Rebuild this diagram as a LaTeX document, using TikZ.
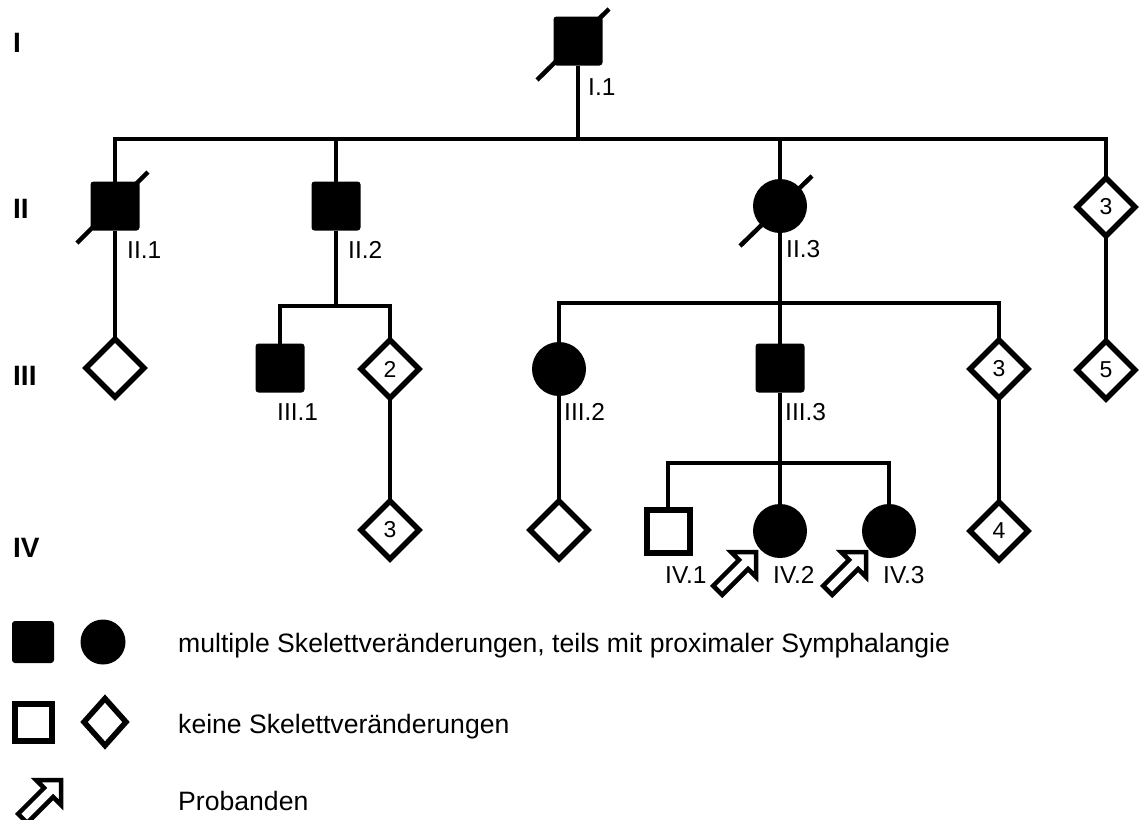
\documentclass[tikz,border=0pt]{standalone}
\usepackage{fontspec}
\setmainfont{Liberation Sans}
\usetikzlibrary{shapes.geometric,calc}
\begin{document}
\begin{tikzpicture}[x=1pt,y=-1pt,
  line/.style={line width=4pt, line join=miter},
  affsq/.style={rectangle, fill=black, rounded corners=3pt, minimum size=49pt, inner sep=0pt, outer sep=0pt},
  affci/.style={circle, fill=black, minimum size=54pt, inner sep=0pt, outer sep=0pt},
  unsq/.style={rectangle, draw, line width=6pt, fill=white, minimum size=43pt, inner sep=0pt, outer sep=0pt},
  undi/.style={diamond, draw, line width=5.5pt, fill=white, minimum width=58pt, minimum height=58pt, inner sep=0pt, outer sep=0pt, font=\fontsize{23}{26}\selectfont},
  lbl/.style={anchor=west, inner sep=0pt, font=\fontsize{24.5}{28}\selectfont},
  gen/.style={anchor=west, inner sep=0pt, font=\fontsize{28}{32}\selectfont\bfseries},
  legtext/.style={anchor=base west, inner sep=0pt, font=\fontsize{26.6}{30}\selectfont},
  dead/.style={line width=4.5pt},
  proband/.pic={\draw[line width=4.5pt, fill=white, line join=miter, scale=1.08]
     (0,0) -- (0,23) -- (-7.3,15.7) -- (-31.3,39.7) -- (-39.7,31.3) -- (-15.7,7.3) -- (-23,0) -- cycle;}
]
\useasboundingbox (0,0) rectangle (1139,819);

% generation labels
\node[gen] (gI) at (13,43) {I};
\node[gen] (gII) at (13,209) {II};
\node[gen] (gIII) at (13,376) {III};
\node[gen] (gIV) at (13,548) {IV};

% individuals
\node[affsq] (I1) at (578,41) {};
\node[affsq] (II1) at (115,206) {};
\node[affsq] (II2) at (336,206) {};
\node[affci] (II3) at (780,206) {};
\node[undi] (II4) at (1106,207) {3};

\node[undi] (IIIa) at (115,368) {};
\node[affsq] (III1) at (280,368) {};
\node[undi] (IIIb) at (390,369) {2};
\node[affci] (III2) at (559,369) {};
\node[affsq] (III3) at (780,368) {};
\node[undi] (IIIc) at (999,369) {3};
\node[undi] (IIId) at (1106,370) {5};

\node[undi] (IVa) at (390,530) {3};
\node[undi] (IVb) at (559,530) {};
\node[unsq] (IV1) at (668,531) {};
\node[affci] (IV2) at (780,531) {};
\node[affci] (IV3) at (889,531) {};
\node[undi] (IVc) at (999,531) {4};

% sibship coordinates
\coordinate (s1) at (578,139);
\coordinate (s2) at (336,306);
\coordinate (s3) at (780,303);
\coordinate (s4) at (780,463);

% connectors
\draw[line] (I1.south) -- (s1);
\draw[line] (II1.north) |- (s1) -| (II4.north);
\draw[line] (II2.north) -- (II2.north |- s1);
\draw[line] (II3.north) -- (II3.north |- s1);
\draw[line] (II1.south) -- (IIIa.north);
\draw[line] (II4.south) -- (IIId.north);
\draw[line] (II2.south) -- (s2);
\draw[line] (III1.north) |- (s2) -| (IIIb.north);
\draw[line] (II3.south) -- (s3);
\draw[line] (III2.north) |- (s3) -| (IIIc.north);
\draw[line] (III3.north) -- (s3);
\draw[line] (III3.south) -- (s4);
\draw[line] (IV1.north) |- (s4) -| (IV3.north);
\draw[line] (IV2.north) -- (s4);
\draw[line] (IIIb.south) -- (IVa.north);
\draw[line] (III2.south) -- (IVb.north);
\draw[line] (IIIc.south) -- (IVc.north);

% deceased marks
\draw[dead] ($(I1)+(-41,39)$) -- ($(I1)+(31,-32)$);
\draw[dead] ($(II1)+(-38,37)$) -- ($(II1)+(33,-34)$);
\draw[dead] ($(II3)+(-40,40)$) -- ($(II3)+(32,-30)$);

% labels
\node[lbl] (lI1) at (588,87) {I.1};
\node[lbl] (lII1) at (127,250) {II.1};
\node[lbl] (lII2) at (348,250) {II.2};
\node[lbl] (lII3) at (786,249) {II.3};
\node[lbl] (lIII1) at (277,412) {III.1};
\node[lbl] (lIII2) at (564,412) {III.2};
\node[lbl] (lIII3) at (785,412) {III.3};
\node[lbl] (lIV1) at (665,575) {IV.1};
\node[lbl] (lIV2) at (773,575) {IV.2};
\node[lbl] (lIV3) at (883,575) {IV.3};

% probands
\pic at (756,552) {proband};
\pic at (866,552) {proband};

% legend
\node[affsq, minimum size=42pt] (L1) at (33,642) {};
\node[affci, minimum size=45pt] (L2) at (103,642) {};
\node[unsq, minimum size=37pt] (L3) at (33,722) {};
\node[undi, minimum width=42pt, minimum height=47pt] (L4) at (105,722) {};
\pic at (61,780) {proband};
\node[legtext] (t1) at (178,652) {multiple Skelettveränderungen, teils mit proximaler Symphalangie};
\node[legtext] (t2) at (178,733) {keine Skelettveränderungen};
\node[legtext] (t3) at (178,810) {Probanden};
\end{tikzpicture}
\end{document}
